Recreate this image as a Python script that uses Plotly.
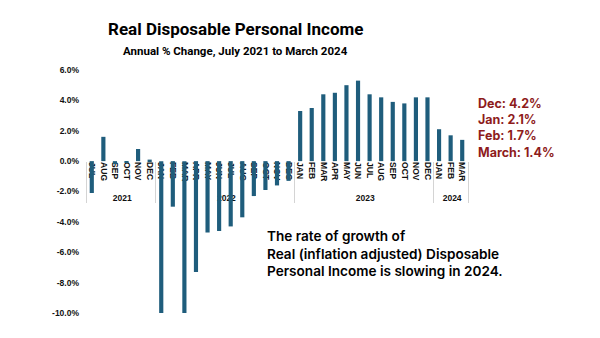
import plotly.graph_objects as go

# ---- data ----
years = ["2021"] * 6 + ["2022"] * 12 + ["2023"] * 12 + ["2024"] * 3
months = ["JUL", "AUG", "SEP", "OCT", "NOV", "DEC",
          "JAN", "FEB", "MAR", "APR", "MAY", "JUN", "JUL", "AUG", "SEP", "OCT", "NOV", "DEC",
          "JAN", "FEB", "MAR", "APR", "MAY", "JUN", "JUL", "AUG", "SEP", "OCT", "NOV", "DEC",
          "JAN", "FEB", "MAR"]
values = [-2.1, 1.6, -0.2, -0.1, 0.8, 0.1,
          -10.0, -3.0, -10.0, -7.3, -4.7, -4.6, -4.3, -3.7, -2.3, -1.9, -1.6, -1.3,
          3.3, 3.5, 4.4, 4.5, 5.0, 5.3, 4.4, 4.2, 3.9, 3.8, 4.2, 4.2,
          2.1, 1.7, 1.4]
y_ticks = [6, 4, 2, 0, -2, -4, -6, -8, -10]
y_tick_labels = ["6.0%", "4.0%", "2.0%", "0.0%", "-2.0%", "-4.0%", "-6.0%", "-8.0%", "-10.0%"]
y_range = [-10, 6]

title = "Real Disposable Personal Income"
subtitle = "Annual % Change, July 2021 to March 2024"
callout = ["Dec: 4.2%", "Jan: 2.1%", "Feb: 1.7%", "March: 1.4%"]
note = "The rate of growth of<br>Real (inflation adjusted) Disposable<br>Personal Income is slowing in 2024."

# Plotly orders multicategory children by first appearance across the whole
# axis; a trailing space (collapsed by SVG, so invisible) keeps the partial
# 2021 year's months distinct so every year keeps Jan..Dec order.
month_keys = [m + " " if y == "2021" else m for y, m in zip(years, months)]

# ---- layout geometry ----
W, H = 600, 338
L, R, T, B = 86, 132, 70, 25
pw, ph = W - L - R, H - T - B


def px(x):
    return (x - L) / pw


def py(y):
    return (H - B - y) / ph


zero_pos = (0 - y_range[0]) / (y_range[1] - y_range[0])

BAR = "#1f5d7c"
RED = "#8e1c1c"
AX_FONT = "Liberation Sans"
TXT_FONT = "Roboto"

fig = go.Figure()
fig.add_trace(go.Bar(x=[years, month_keys], y=values, marker_color=BAR,
                     marker_line_width=0, width=0.36))

fig.update_layout(
    width=W, height=H,
    margin=dict(l=L, r=R, t=T, b=B),
    paper_bgcolor="white", plot_bgcolor="white",
    showlegend=False,
    xaxis=dict(
        type="multicategory",
        anchor="free", position=zero_pos,
        showgrid=False, zeroline=False, showline=False,
        ticks="", tickangle=90,
        showdividers=True, dividercolor="#d4d4d4", dividerwidth=1,
        tickfont=dict(family=AX_FONT, size=8.5, color="#111", weight="bold"),
        layer="below traces",
    ),
    yaxis=dict(
        range=y_range,
        tickvals=y_ticks, ticktext=y_tick_labels,
        showgrid=False, zeroline=False, showline=False,
        ticks="", ticklabelstandoff=6,
        tickfont=dict(family=AX_FONT, size=8.5, color="#111", weight="bold"),
    ),
)

annos = [
    dict(text=title, x=px(235.5), y=py(28.5), font=dict(family=TXT_FONT, size=17, color="#000", weight="bold")),
    dict(text=subtitle, x=px(235), y=py(51), font=dict(family=TXT_FONT, size=11.5, color="#000", weight="bold")),
]
for i, t in enumerate(callout):
    annos.append(dict(text=t, x=px(476), y=py(103 + i * 16.4), xanchor="left",
                      font=dict(family="Inter", size=12.5, color=RED, weight="bold")))
annos.append(dict(text=note, x=px(265), y=py(253.5), xanchor="left", align="left",
                  font=dict(family="Inter", size=13.6, color="#000", weight=600)))
for a in annos:
    a.setdefault("xanchor", "center")
    a.update(xref="paper", yref="paper", yanchor="middle", showarrow=False)
    fig.add_annotation(**a)

fig.write_html("out.html")
